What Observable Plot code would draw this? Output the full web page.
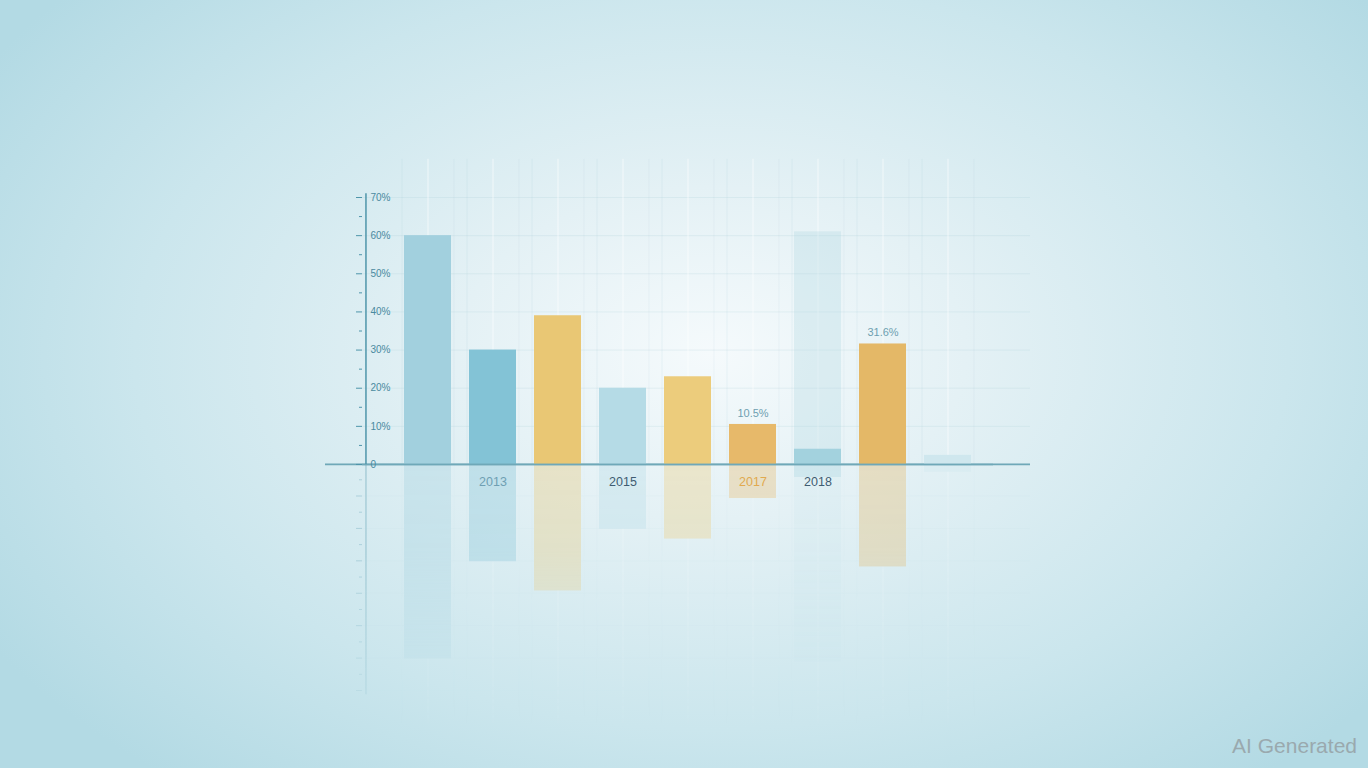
<!DOCTYPE html>
<html>
<head>
<meta charset="utf-8">
<script src="https://cdn.jsdelivr.net/npm/d3@7"></script>
<script src="https://cdn.jsdelivr.net/npm/@observablehq/plot@0.6"></script>
<style>
  html, body { margin: 0; padding: 0; }
  body {
    width: 1368px; height: 768px; overflow: hidden; position: relative;
    background: radial-gradient(ellipse 62% 72% at 52% 46%, #f5fafc 0%, #e4f1f5 30%, #cbe6ed 68%, #b3dae4 100%);
    font-family: "Liberation Sans", Arial, sans-serif;
  }
  #chart, #reflection { position: absolute; left: 300px; top: 150px; }
  #reflection {
    opacity: 0.36;
    transform: scaleY(-0.85);
    transform-origin: 0px 314px;
    -webkit-mask-image: linear-gradient(to bottom, rgba(0,0,0,0.15) 0%, rgba(0,0,0,0.9) 60%, #000 100%);
    mask-image: linear-gradient(to bottom, rgba(0,0,0,0.15) 0%, rgba(0,0,0,0.9) 60%, #000 100%);
  }
  #credit { position: absolute; right: 11px; bottom: 10px; font-size: 21px; color: #9aa9ae; font-family: "Liberation Sans", Arial, sans-serif; }
</style>
</head>
<body>
<div id="reflection"></div>
<div id="chart"></div>
<div id="credit">AI Generated</div>
<script>
// ---- data ----
const categories = ["2012", "2013", "2014", "2015", "2016", "2017", "2018", "2019", "2020"];
const values = [60, 30, 39, 20, 23, 10.5, 4, 31.6, 2.4];
const barColors = ["#a2d0de", "#83c3d6", "#e9c774", "#b5dbe6", "#eccc7c", "#e7b96a", "#a3d2de", "#e4b867", "#cfe7ee"];
const ghostValues = [0, 0, 0, 0, 0, 0, 61, 0, 0];
const yTicks = [0, 10, 20, 30, 40, 50, 60, 70];
const yMinorTicks = [5, 15, 25, 35, 45, 55, 65];
const yTickLabels = ["0", "10%", "20%", "30%", "40%", "50%", "60%", "70%"];
const xLabelCats = ["2013", "2015", "2017", "2018"];
const xLabelColors = ["#6f9fb3", "#3f5c72", "#e1a94f", "#3f5c72"];
const valueLabelCats = ["2017", "2019"];

// ---- layout ----
const W = 750, H = 354, mL = 62, mR = 20, mT = 47, mB = 40;
const xRange = [100, 675];
const padInner = 0.27;
const step = (xRange[1] - xRange[0]) / (categories.length - padInner);
const bw = step * (1 - padInner);
const axisDx = mL - (xRange[0] + bw / 2);

const rows = categories.map((c, i) => ({cat: c, value: values[i], color: barColors[i], ghost: ghostValues[i]}));
const labelRows = xLabelCats.map((c, i) => ({cat: c, color: xLabelColors[i]}));
const valueRows = rows.filter(r => valueLabelCats.includes(r.cat));

function makeChart(reflect) {
  const marks = [
    Plot.gridY(yTicks, {stroke: "#a8ccd7", strokeOpacity: 0.22}),
    Plot.ruleX(categories, {x: d => d, y1: 0, y2: 80, dx: -bw / 2 - 2, stroke: "#8fbfcd", strokeOpacity: 0.12}),
    Plot.ruleX(categories, {x: d => d, y1: 0, y2: 80, dx: bw / 2 + 2, stroke: "#8fbfcd", strokeOpacity: 0.1}),
    Plot.ruleX(categories, {x: d => d, y1: 0, y2: 80, stroke: "#ffffff", strokeOpacity: 0.3, strokeWidth: 2}),
    Plot.barY(rows.filter(r => r.ghost > 0), {x: "cat", y: "ghost", fill: "#a9d4e0", fillOpacity: 0.28}),
    Plot.barY(rows, {x: "cat", y: "value", fill: "color"}),
    Plot.ruleY([0], {stroke: "#6fa8b8", strokeWidth: 1.5}),
    Plot.ruleY([0], {stroke: "#6fa8b8", strokeWidth: 1.5, dx: -37}),
    Plot.ruleX([categories[0]], {x: d => d, y1: 0, y2: 71, dx: axisDx, stroke: "#4f95aa", strokeWidth: 1.5}),
    Plot.axisY({ticks: yMinorTicks, anchor: "left", tickSize: 3, tickFormat: () => "", stroke: "#4f95aa"}),
    Plot.axisY({
      ticks: yTicks, anchor: "left", tickSize: 6, tickPadding: -14, textAnchor: "start",
      tickFormat: reflect ? () => "" : (d => yTickLabels[yTicks.indexOf(d)]),
      fill: "#4a8aa0", stroke: "#4f95aa", fontSize: 10
    })
  ];
  if (!reflect) {
    marks.push(
      Plot.text(labelRows, {x: "cat", text: "cat", fill: "color", frameAnchor: "bottom", dy: 21, fontSize: 12.5, fontWeight: 500}),
      Plot.text(valueRows, {x: "cat", y: "value", text: d => d.value.toFixed(1) + "%", dy: -11, fill: "#6e9fb1", fontSize: 11})
    );
  }
  return Plot.plot({
    width: W, height: H,
    marginLeft: mL, marginRight: mR, marginTop: mT, marginBottom: mB,
    style: {background: "transparent", fontFamily: "Liberation Sans, Arial, sans-serif", overflow: "visible"},
    x: {type: "band", domain: categories, range: xRange, paddingInner: padInner, paddingOuter: 0, axis: null},
    y: {domain: [0, 70], axis: null},
    color: {type: "identity"},
    marks
  });
}

document.getElementById("chart").appendChild(makeChart(false));
document.getElementById("reflection").appendChild(makeChart(true));
</script>
</body>
</html>
